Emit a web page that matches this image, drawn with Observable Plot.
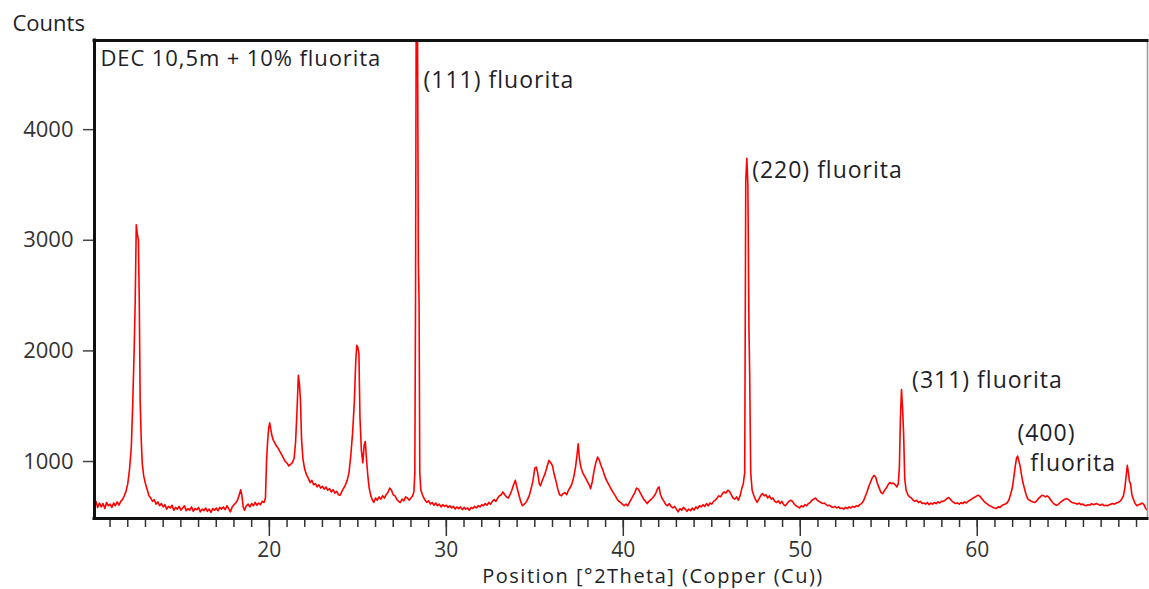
<!DOCTYPE html>
<html><head><meta charset="utf-8">
<script src="https://cdn.jsdelivr.net/npm/d3@7"></script>
<script src="https://cdn.jsdelivr.net/npm/@observablehq/plot@0.6"></script>
<style>html,body{margin:0;padding:0;background:#fff;overflow:hidden} svg{display:block}</style>
</head><body><div id="chart"></div>
<script>
const sampleName = "DEC 10,5m + 10% fluorita";
const yTitle = "Counts";
const xTitle = "Position [°2Theta] (Copper (Cu))";
const xDomain = [10.12, 69.62];
const yDomain = [485, 4806];
const yTicks = [1000, 2000, 3000, 4000];
const xMajorTicks = [20, 30, 40, 50, 60];
const xMinorTicks = d3.range(11, 70);
const peakLabels = [
  {x: 28.71, y: 4445, text: "(111) fluorita"},
  {x: 47.28, y: 3631, text: "(220) fluorita"},
  {x: 56.32, y: 1732, text: "(311) fluorita"},
  {x: 62.27, y: 1250, text: "(400)"},
  {x: 63.0, y: 980, text: "fluorita"}
];
// [2theta, counts]
const scan = [
[10.1,610],[10.2,640],[10.3,585],[10.4,625],[10.5,590],[10.6,620],[10.7,575],[10.8,630],[10.9,600],[11.0,615],
[11.1,585],[11.2,625],[11.3,600],[11.4,635],[11.5,605],[11.6,640],[11.7,655],[11.8,690],[11.9,730],[12.0,800],
[12.1,930],[12.2,1130],[12.28,1520],[12.36,2000],[12.42,2450],[12.48,3140],[12.54,3060],[12.6,3000],[12.65,2450],[12.7,1550],
[12.76,1200],[12.82,980],[12.9,870],[13.0,800],[13.1,745],[13.2,690],[13.3,670],[13.4,640],[13.5,655],[13.6,615],
[13.7,635],[13.8,600],[13.9,620],[14.0,590],[14.1,610],[14.2,570],[14.3,595],[14.4,580],[14.5,605],[14.6,560],
[14.7,585],[14.8,570],[14.9,595],[15.0,560],[15.1,580],[15.2,600],[15.3,555],[15.4,575],[15.5,560],[15.6,590],
[15.7,550],[15.8,575],[15.9,565],[16.0,585],[16.1,545],[16.2,570],[16.3,555],[16.4,580],[16.5,550],[16.6,570],
[16.7,540],[16.8,575],[16.9,560],[17.0,580],[17.1,555],[17.2,585],[17.3,570],[17.4,590],[17.5,565],[17.6,600],
[17.7,575],[17.8,545],[17.9,590],[18.0,610],[18.1,625],[18.2,650],[18.3,700],[18.38,745],[18.45,690],[18.52,590],
[18.6,560],[18.7,600],[18.8,615],[18.9,590],[19.0,620],[19.1,600],[19.2,630],[19.3,605],[19.4,625],[19.5,610],
[19.6,640],[19.7,630],[19.78,670],[19.84,1000],[19.9,1180],[19.96,1300],[20.02,1350],[20.08,1290],[20.14,1240],[20.2,1200],
[20.3,1170],[20.4,1140],[20.5,1120],[20.6,1090],[20.7,1060],[20.8,1030],[20.9,1000],[21.0,985],[21.1,960],[21.2,975],
[21.3,990],[21.4,1030],[21.48,1170],[21.56,1450],[21.64,1780],[21.7,1700],[21.76,1550],[21.82,1200],[21.9,1020],[22.0,930],
[22.1,880],[22.2,850],[22.3,810],[22.4,830],[22.5,790],[22.6,800],[22.7,770],[22.8,790],[22.9,760],[23.0,775],
[23.1,750],[23.2,770],[23.3,740],[23.4,755],[23.5,725],[23.6,745],[23.7,715],[23.8,730],[23.9,700],[24.0,695],
[24.1,730],[24.2,760],[24.3,790],[24.4,830],[24.5,900],[24.6,1050],[24.7,1250],[24.8,1530],[24.88,1900],[24.94,2050],
[25.0,2030],[25.06,1980],[25.12,1400],[25.2,1100],[25.28,990],[25.36,1150],[25.42,1180],[25.5,1000],[25.56,880],[25.64,760],
[25.72,700],[25.8,660],[25.9,630],[26.0,670],[26.1,650],[26.2,680],[26.3,660],[26.4,690],[26.5,670],[26.6,700],
[26.7,720],[26.8,760],[26.9,740],[27.0,700],[27.1,690],[27.2,660],[27.3,640],[27.4,630],[27.5,660],[27.6,645],
[27.7,680],[27.8,670],[27.9,650],[28.0,670],[28.1,690],[28.17,730],[28.22,900],[28.26,2450],[28.3,5200],[28.36,5400],
[28.42,2790],[28.46,2450],[28.5,900],[28.56,740],[28.65,700],[28.7,680],[28.8,650],[28.9,630],[29.0,645],[29.1,615],
[29.2,630],[29.3,605],[29.4,625],[29.5,600],[29.6,615],[29.7,590],[29.8,610],[29.9,595],[30.0,605],[30.1,585],
[30.2,600],[30.3,580],[30.4,595],[30.5,570],[30.6,590],[30.7,575],[30.8,590],[30.9,565],[31.0,585],[31.1,570],
[31.2,580],[31.3,560],[31.4,585],[31.5,575],[31.6,595],[31.7,580],[31.8,600],[31.9,590],[32.0,610],[32.1,600],
[32.2,620],[32.3,605],[32.4,630],[32.5,615],[32.6,640],[32.7,655],[32.8,640],[32.9,670],[33.0,690],[33.1,700],
[33.2,725],[33.3,700],[33.4,680],[33.5,670],[33.6,700],[33.7,740],[33.8,790],[33.9,830],[34.0,760],[34.1,700],
[34.2,640],[34.3,600],[34.4,615],[34.5,630],[34.6,660],[34.7,700],[34.8,760],[34.9,830],[35.0,940],[35.08,950],
[35.16,900],[35.25,800],[35.32,780],[35.4,820],[35.5,860],[35.6,900],[35.7,960],[35.8,1010],[35.9,990],[36.0,960],
[36.1,880],[36.2,820],[36.3,750],[36.4,700],[36.5,690],[36.6,710],[36.7,720],[36.8,700],[36.9,740],[37.0,765],
[37.1,800],[37.2,860],[37.3,950],[37.38,1050],[37.45,1160],[37.52,1030],[37.6,950],[37.7,900],[37.8,870],[37.9,840],
[38.0,810],[38.1,780],[38.15,755],[38.25,820],[38.35,920],[38.45,990],[38.55,1040],[38.65,1010],[38.75,960],[38.85,920],
[38.95,870],[39.05,830],[39.15,800],[39.25,770],[39.35,740],[39.45,715],[39.55,690],[39.65,660],[39.75,640],[39.85,630],
[39.95,615],[40.05,600],[40.15,615],[40.25,600],[40.35,630],[40.45,660],[40.55,690],[40.65,720],[40.75,760],[40.85,750],
[40.95,720],[41.05,690],[41.15,660],[41.25,640],[41.35,620],[41.45,640],[41.55,655],[41.65,670],[41.75,690],[41.85,720],
[41.95,760],[42.02,770],[42.1,700],[42.2,665],[42.3,640],[42.4,610],[42.5,600],[42.6,620],[42.7,595],[42.8,580],
[42.9,595],[43.0,570],[43.1,545],[43.2,575],[43.3,560],[43.4,585],[43.5,570],[43.6,550],[43.7,570],[43.8,555],
[43.9,580],[44.0,560],[44.1,590],[44.2,575],[44.3,600],[44.4,590],[44.5,610],[44.6,595],[44.7,620],[44.8,600],
[44.9,625],[45.0,615],[45.1,640],[45.2,650],[45.3,670],[45.4,690],[45.5,680],[45.6,710],[45.7,725],[45.8,715],
[45.9,740],[46.0,730],[46.1,700],[46.2,670],[46.3,660],[46.4,680],[46.5,650],[46.6,690],[46.7,760],[46.78,800],
[46.86,900],[46.92,3540],[46.98,3740],[47.04,3500],[47.1,2210],[47.14,1800],[47.2,900],[47.28,740],[47.36,700],[47.46,660],
[47.56,630],[47.66,660],[47.76,690],[47.86,710],[47.96,690],[48.06,700],[48.16,670],[48.26,690],[48.36,660],[48.46,670],
[48.56,640],[48.66,630],[48.76,645],[48.86,620],[48.96,640],[49.06,610],[49.16,600],[49.26,620],[49.36,640],[49.46,650],
[49.56,640],[49.66,615],[49.76,600],[49.86,590],[49.96,580],[50.06,600],[50.16,590],[50.26,610],[50.36,600],[50.46,620],
[50.56,630],[50.66,650],[50.76,660],[50.86,670],[50.96,650],[51.06,640],[51.16,630],[51.26,620],[51.36,625],[51.46,610],
[51.56,600],[51.66,605],[51.76,590],[51.86,585],[51.96,595],[52.06,580],[52.16,590],[52.26,575],[52.36,580],[52.46,570],
[52.56,585],[52.66,575],[52.76,590],[52.86,580],[52.96,595],[53.06,585],[53.16,600],[53.26,595],[53.36,610],[53.46,620],
[53.56,640],[53.66,680],[53.76,720],[53.86,770],[53.96,810],[54.06,850],[54.16,875],[54.26,860],[54.36,800],[54.46,760],
[54.56,720],[54.66,710],[54.76,740],[54.86,760],[54.96,790],[55.06,810],[55.16,800],[55.26,805],[55.36,790],[55.46,770],
[55.54,800],[55.6,950],[55.66,1400],[55.72,1650],[55.78,1480],[55.84,1250],[55.9,850],[55.98,740],[56.08,700],[56.18,680],
[56.28,670],[56.38,650],[56.48,640],[56.58,650],[56.68,630],[56.78,640],[56.88,620],[56.98,625],[57.08,615],[57.18,630],
[57.28,610],[57.38,625],[57.48,615],[57.58,630],[57.68,620],[57.78,635],[57.88,625],[57.98,640],[58.08,640],[58.18,650],
[58.28,665],[58.38,675],[58.48,660],[58.58,640],[58.68,630],[58.78,620],[58.88,625],[58.98,615],[59.08,630],[59.18,620],
[59.28,635],[59.38,625],[59.48,640],[59.58,650],[59.68,660],[59.78,670],[59.88,680],[59.98,690],[60.08,695],[60.18,680],
[60.28,660],[60.38,640],[60.48,625],[60.58,615],[60.68,600],[60.78,595],[60.88,585],[60.98,580],[61.08,575],[61.18,590],
[61.28,585],[61.38,600],[61.48,610],[61.58,615],[61.68,625],[61.78,650],[61.88,700],[61.98,760],[62.06,850],[62.14,950],
[62.22,1030],[62.28,1050],[62.34,1010],[62.42,960],[62.5,880],[62.58,810],[62.66,760],[62.76,700],[62.86,660],[62.96,650],
[63.06,640],[63.16,635],[63.26,630],[63.36,645],[63.46,665],[63.56,680],[63.66,695],[63.76,690],[63.86,680],[63.96,690],
[64.06,675],[64.16,650],[64.26,630],[64.36,615],[64.46,605],[64.56,610],[64.66,625],[64.76,640],[64.86,650],[64.96,660],
[65.06,665],[65.16,655],[65.26,640],[65.36,630],[65.46,625],[65.56,620],[65.66,615],[65.76,625],[65.86,610],[65.96,615],
[66.06,605],[66.16,600],[66.26,610],[66.36,605],[66.46,620],[66.56,610],[66.66,615],[66.76,620],[66.86,610],[66.96,605],
[67.06,615],[67.16,600],[67.26,605],[67.36,600],[67.46,610],[67.56,615],[67.66,620],[67.76,615],[67.86,625],[67.96,630],
[68.06,640],[68.16,660],[68.26,690],[68.34,760],[68.42,880],[68.48,965],[68.54,900],[68.6,820],[68.66,800],[68.74,700],
[68.82,660],[68.92,620],[69.02,600],[69.12,610],[69.22,615],[69.32,625],[69.42,610],[69.52,575],[69.62,560],[69.7,555]
];
const data = scan.map(([t, c]) => ({t, c}));
const font = "'Segoe UI','Open Sans',sans-serif";
const ink = "#1e1e28";
const chart = Plot.plot({
  width: 1149, height: 589,
  marginLeft: 94, marginRight: 2, marginTop: 40, marginBottom: 71,
  style: {fontFamily: font, fontSize: "22px", color: ink, background: "#fff", overflow: "visible"},
  x: {domain: xDomain},
  y: {domain: yDomain},
  marks: [
    Plot.line(data, {x: "t", y: "c", stroke: "#ff0000", strokeWidth: 1.6, clip: true}),
    Plot.axisY(yTicks, {tickSize: 11, tickPadding: 10, tickFormat: d3.format("d"), label: null, stroke: "#444", strokeWidth: 1.5, fill: "#333", fontSize: 22}),
    Plot.axisX(xMinorTicks, {tickSize: 9, tickFormat: () => "", label: null, stroke: "#333", strokeWidth: 1.5}),
    Plot.axisX(xMajorTicks, {tickSize: 18, tickPadding: 6, tickFormat: d3.format("d"), label: null, stroke: "#333", strokeWidth: 1.5, fill: "#333", fontSize: 21}),
    Plot.ruleX([xDomain[1]], {stroke: "#999", strokeWidth: 1.5}),
    Plot.ruleY([yDomain[1]], {stroke: "#111", strokeWidth: 3, strokeLinecap: "square"}),
    Plot.ruleX([xDomain[0]], {stroke: "#111", strokeWidth: 3, strokeLinecap: "square"}),
    Plot.ruleY([yDomain[0]], {stroke: "#111", strokeWidth: 3, strokeLinecap: "square"}),
    Plot.text(peakLabels, {x: "x", y: "y", text: "text", textAnchor: "start", lineAnchor: "middle", fill: ink, fontSize: 23}),
    Plot.text([sampleName], {frameAnchor: "top-left", dx: 6, dy: 10, lineAnchor: "top", textAnchor: "start", fill: ink, fontSize: 22}),
    Plot.text([yTitle], {frameAnchor: "top-left", dx: -82, dy: -25, lineAnchor: "top", textAnchor: "start", fill: ink, fontSize: 22}),
    Plot.text([xTitle], {frameAnchor: "bottom", dx: 32, dy: 50, lineAnchor: "top", textAnchor: "middle", fill: ink, fontSize: 20})
  ]
});
// widen the annotation texts (letter spacing) to match the reference's wider lettering
const textGroups = chart.querySelectorAll('g[aria-label="text"]');
const spacing = ["1px", "0.9px", "0px", "1.5px"];
textGroups.forEach((g, i) => { if (spacing[i]) g.setAttribute("letter-spacing", spacing[i]); });
document.getElementById("chart").appendChild(chart);
</script>
</body></html>
